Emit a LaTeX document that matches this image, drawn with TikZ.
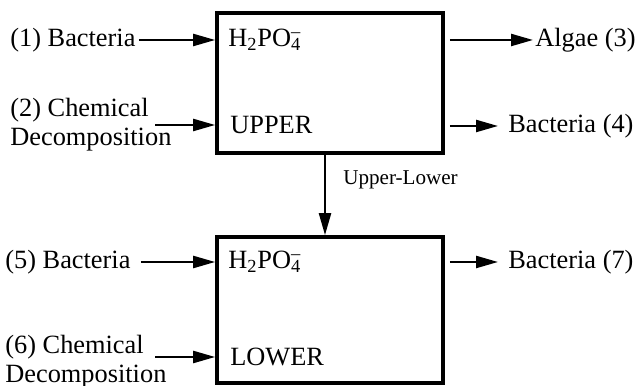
\documentclass[tikz,border=0pt]{standalone}
\usepackage{fontspec}
\setmainfont{Liberation Serif}
\usepackage{tikz}
\usetikzlibrary{arrows.meta,positioning,calc}
\newcommand{\Hpo}{H\textsubscript{2}PO\rlap{\textsubscript{4}}\textsuperscript{--}}
\tikzset{
  bx/.style={draw, line width=2.1pt, minimum width=4.52cm, inner sep=0pt},
  fa/.style={-{Triangle[length=4.4mm, width=2.4mm]}, line width=1.3pt},
  lbl/.style={anchor=west, inner sep=0pt, align=left},
}
\begin{document}
\begin{tikzpicture}[font=\fontsize{15}{16.5}\selectfont]
  \useasboundingbox (0,0) rectangle (12.74,7.72);
  \node[bx, minimum height=2.8cm] (up) at (6.6,6.06){};
  \node[bx, minimum height=2.92cm] (lo) at (6.6,1.52){};
  \node[lbl] (hu) at (4.56,6.92){\Hpo};
  \node[lbl] (tu) at (4.6,5.22){UPPER};
  \node[lbl] (hl) at (4.56,2.48){\Hpo};
  \node[lbl] (tl) at (4.6,0.58){LOWER};
  % inputs
  \node[lbl] (b1) at (0.2,6.92){(1) Bacteria};
  \node[lbl] (c2) at (0.2,5.22){(2) Chemical\\Decomposition};
  \coordinate (a2) at (3.1,5.22);
  \node[lbl] (b5) at (0.1,2.48){(5) Bacteria};
  \node[lbl] (c6) at (0.1,0.49){(6) Chemical\\Decomposition};
  \coordinate (a6) at (3.1,0.58);
  \draw[fa] ([xshift=0.06cm]b1.east) -- (b1.east -| up.west);
  \draw[fa] (a2) -- (a2 -| up.west);
  \draw[fa] ([xshift=0.2cm]b5.east) -- (b5.east -| lo.west);
  \draw[fa] (a6) -- (a6 -| lo.west);
  % outputs
  \node[lbl] (al3) at (10.7,6.92){Algae (3)};
  \node[lbl] (b4) at (10.16,5.2){Bacteria (4)};
  \node[lbl] (b7) at (10.16,2.48){Bacteria (7)};
  \draw[fa] ([xshift=0.1cm]up.east |- al3) -- ([xshift=-0.04cm]al3.west);
  \draw[fa] ([xshift=0.1cm]up.east |- b4) -- ([xshift=-0.2cm]b4.west);
  \draw[fa] ([xshift=0.1cm]lo.east |- b7) -- ([xshift=-0.2cm]b7.west);
  % exchange
  \draw[fa] ([xshift=-0.1cm]up.south) -- ([xshift=-0.1cm]lo.north);
  \node[lbl, font=\fontsize{12}{14}\selectfont] (ul) at (6.86,4.12){Upper-Lower};
\end{tikzpicture}
\end{document}
